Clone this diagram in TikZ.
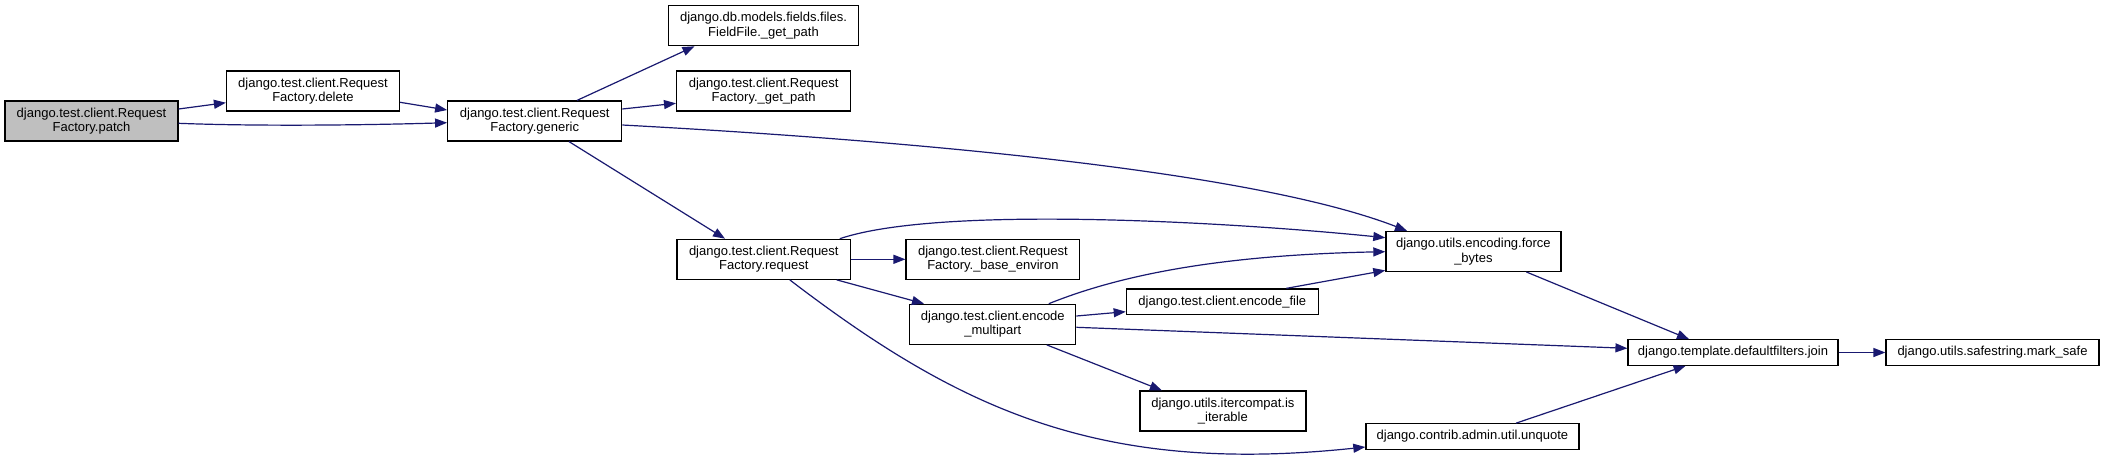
\documentclass[tikz,border=0pt]{standalone}
\usepackage{fontspec}
\setmainfont{Liberation Sans}
\usetikzlibrary{arrows.meta,calc}
\definecolor{edgeblue}{RGB}{25,25,112}
\definecolor{rootgray}{RGB}{191,191,191}
\begin{document}
\begin{tikzpicture}[x=1pt,y=-1pt,
 fn/.style={draw=black, line width=1.2pt, rectangle, inner sep=0pt, align=center, font=\fontsize{13}{14.5}\selectfont, minimum height=40pt},
 fnone/.style={fn, minimum height=25.5pt},
 call/.style={draw=edgeblue, line width=1.2pt, -{Triangle[length=12pt,width=9pt]}},
]
\useasboundingbox[fill=white] (0,0) rectangle (2104,461);

\node[fn, fill=rootgray, minimum width=173pt] (patch) at (91.5,121) {django.test.client.Request\\Factory.patch};
\node[fn, minimum width=173pt] (delete) at (313,91) {django.test.client.Request\\Factory.delete};
\node[fn, minimum width=174pt] (generic) at (534.7,121) {django.test.client.Request\\Factory.generic};
\node[fn, minimum width=189.5pt] (ffpath) at (763.5,25.7) {django.db.models.fields.files.\\FieldFile.\_get\_path};
\node[fn, minimum width=174pt] (rfpath) at (763.6,91) {django.test.client.Request\\Factory.\_get\_path};
\node[fn, minimum width=173.5pt] (request) at (763.8,259.3) {django.test.client.Request\\Factory.request};
\node[fn, minimum width=173.7pt] (environ) at (992.9,259.3) {django.test.client.Request\\Factory.\_base\_environ};
\node[fn, minimum width=166pt] (multipart) at (992.8,324.3) {django.test.client.encode\\\_multipart};
\node[fnone, minimum width=192pt] (encfile) at (1222.3,301.7) {django.test.client.encode\_file};
\node[fn, minimum width=175pt] (force) at (1473.4,251.4) {django.utils.encoding.force\\\_bytes};
\node[fnone, minimum width=210pt] (join) at (1733,352.5) {django.template.defaultfilters.join};
\node[fnone, minimum width=213pt] (marksafe) at (1992.5,352.5) {django.utils.safestring.mark\_safe};
\node[fn, minimum width=166pt] (iterable) at (1222.9,411) {django.utils.itercompat.is\\\_iterable};
\node[fnone, minimum width=213pt] (unquote) at (1472.4,436.5) {django.contrib.admin.util.unquote};

\draw[call] ($(patch.east)+(0,-12)$) -- ($(delete.west)+(0,11.7)$);
\draw[call] ($(patch.east)+(0,2.3)$) .. controls (260,126.5) and (370,125) .. ($(generic.west)+(0,1.7)$);
\draw[call] ($(delete.east)+(0,11.3)$) -- ($(generic.west)+(0,-11)$);
\draw[call] ($(generic.north)+(42.3,0)$) -- ($(ffpath.south)+(-69,0)$);
\draw[call] ($(generic.east)+(0,-12)$) -- ($(rfpath.west)+(0,12.3)$);
\draw[call] ($(generic.east)+(0,4)$) .. controls (900,140) and (1250,170) .. ($(force.north)+(-66.4,0)$);
\draw[call] ($(generic.south)+(34.3,0)$) -- ($(request.north)+(-38.8,0)$);
\draw[call] ($(request.north)+(76,0)$) .. controls (940,205) and (1230,222) .. ($(force.west)+(0,-13.7)$);
\draw[call] (request.east) -- (environ.west);
\draw[call] ($(request.south)+(73,0)$) -- ($(multipart.north)+(-68.8,0)$);
\draw[call] ($(request.south)+(26,0)$) .. controls (960,410) and (1100,475) .. ($(unquote.west)+(0,10.5)$);
\draw[call] ($(multipart.north)+(56,0)$) .. controls (1120,275) and (1220,255) .. ($(force.west)+(0,0.3)$);
\draw[call] ($(multipart.east)+(0,-8.3)$) -- ($(encfile.west)+(0,10)$);
\draw[call] ($(multipart.east)+(0,3)$) -- ($(join.west)+(0,-4.2)$);
\draw[call] ($(multipart.south)+(54,0)$) -- ($(iterable.north)+(-61,0)$);
\draw[call] ($(encfile.north)+(64,0)$) -- ($(force.west)+(0,19)$);
\draw[call] ($(force.south)+(53,0)$) -- ($(join.north)+(-44,0)$);
\draw[call] (join.east) -- (marksafe.west);
\draw[call] ($(unquote.north)+(43.6,0)$) -- ($(join.south)+(-47.4,0)$);
\end{tikzpicture}
\end{document}
